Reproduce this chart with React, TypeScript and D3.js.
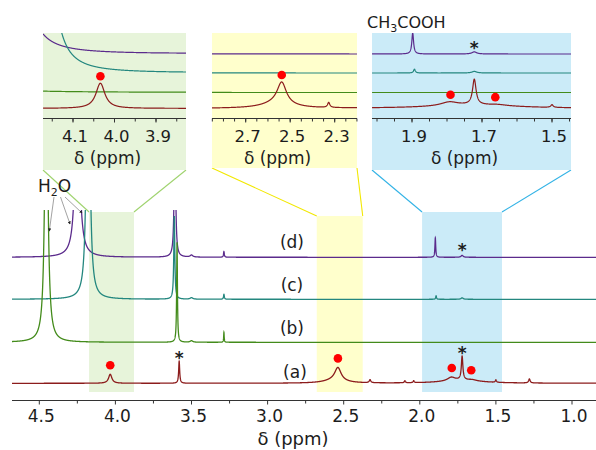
import React from "react";
import * as d3 from "d3";

type Peak = [number, number, number]; // [ppm, height, half-width (ppm)]

// ---------- data ----------
const traceLabels = ["(a)", "(b)", "(c)", "(d)"];

const peaksA: Peak[] = [
  [4.034, 9, 0.013],
  [3.581, 22, 0.004],
  [2.538, 13, 0.025],
  [2.56, 3, 0.08],
  [2.327, 3, 0.006],
  [2.098, 2, 0.004],
  [2.04, 2, 0.004],
  [1.72, 3, 0.15],
  [1.793, 3.6, 0.03],
  [1.722, 23.5, 0.006],
  [1.655, 1, 0.03],
  [1.5, 2.5, 0.004],
  [1.28, 4, 0.006],
];
const peaksB: Peak[] = [
  [4.454, 320, 0.011],
  [3.595, 100, 0.003],
  [3.5, 1.5, 0.01],
  [3.287, 10, 0.002],
];
const peaksC: Peak[] = [
  [4.179, 400, 0.01],
  [3.613, 83, 0.004],
  [3.5, 1.5, 0.01],
  [3.287, 5, 0.003],
  [1.893, 3.5, 0.003],
  [1.722, 1.5, 0.008],
];
const peaksD: Peak[] = [
  [4.25, 200, 0.015],
  [3.609, 150, 0.005],
  [3.5, 2, 0.01],
  [3.287, 5.7, 0.003],
  [1.898, 19.5, 0.003],
  [1.722, 2, 0.008],
];
const tracePeaks: Peak[][] = [peaksA, peaksB, peaksC, peaksD];

const mainTicks = [4.5, 4.0, 3.5, 3.0, 2.5, 2.0, 1.5, 1.0];
const greenTicks = [4.1, 4.0, 3.9];
const yellowTicks = [2.7, 2.5, 2.3];
const blueTicks = [1.9, 1.7, 1.5];

const dotPpmA = [4.034, 2.538, 1.79, 1.662];
const starPpmA = [3.581, 1.722];
const starPpmD = [1.722];

const greenBand: [number, number] = [4.173, 3.878];
const yellowBand: [number, number] = [2.677, 2.375];
const blueBand: [number, number] = [1.985, 1.46];

// ---------- styles / layout ----------
const traceColors = ["#8c1c1c", "#438b1b", "#24877f", "#5b2b8c"];
const FONT = "'DejaVu Sans', Verdana, sans-serif";
const TXT = "#1c1c1c";

const xMain = d3.scaleLinear().domain([4.5, 1.0]).range([39.3, 572]);
const mainLeft = 12;
const mainRight = 596;
const axisY = 400.5;
const clipTop = 210;
const mainBase = [383.3, 342.3, 299.3, 257.3];
const insetBase = [108.5, 92.5, 73, 54];
const insetAxisY = 118.5;

const intensity = (peaks: Peak[], x: number) =>
  d3.sum(peaks, ([p, h, w]) => (h * w * w) / (w * w + (x - p) * (x - p)));

function sampleGrid(lo: number, hi: number, step: number, peaks: Peak[]) {
  const xs = d3.range(lo, hi + step / 2, step);
  for (const [p, , w] of peaks) {
    xs.push(p, p - w * 0.5, p + w * 0.5, p - w, p + w, p - 0.25 * w, p + 0.25 * w);
  }
  return xs.filter((x) => x >= lo && x <= hi).sort((a, b) => a - b);
}

function tracePath(
  peaks: Peak[],
  x: d3.ScaleLinear<number, number>,
  base: number,
  gain: number,
  step: number
) {
  const [d0, d1] = x.domain();
  const lo = Math.min(d0, d1);
  const hi = Math.max(d0, d1);
  const grid = sampleGrid(lo, hi, step, peaks);
  const y = d3.scaleLinear().domain([0, 1]).range([base, base - gain]);
  return (
    d3
      .line<number>()
      .x((p) => x(p))
      .y((p) => y(intensity(peaks, p)))(grid) || ""
  );
}

const Star = ({ x, y }: { x: number; y: number }) => (
  <text x={x} y={y + 10} textAnchor="middle" fontFamily={FONT} fontWeight="bold" fontSize={17} fill={TXT}>
    *
  </text>
);

interface InsetCfg {
  id: string;
  x0: number;
  x1: number;
  y0: number;
  y1: number;
  dom: [number, number];
  rng: [number, number];
  gain: number;
  fill: string;
  stroke: string;
  band: [number, number];
  bandTop: number;
  ticks: number[];
}

const insets: InsetCfg[] = [
  { id: "g", x0: 43, x1: 186, y0: 33, y1: 170, dom: [4.1, 3.9], rng: [73, 156], gain: 2.8, fill: "#e7f4da", stroke: "#9fd36e", band: greenBand, bandTop: 212, ticks: greenTicks },
  { id: "y", x0: 212, x1: 357, y0: 33, y1: 168, dom: [2.7, 2.3], rng: [245.7, 334.7], gain: 1.67, fill: "#ffffcc", stroke: "#f2e800", band: yellowBand, bandTop: 216, ticks: yellowTicks },
  { id: "b", x0: 372, x1: 571, y0: 33, y1: 170, dom: [1.9, 1.5], rng: [412, 552], gain: 1.08, fill: "#cbebf8", stroke: "#33b3e6", band: blueBand, bandTop: 212, ticks: blueTicks },
];

function Inset({ cfg }: { cfg: InsetCfg }) {
  const xs = d3.scaleLinear().domain(cfg.dom).range(cfg.rng);
  const full = d3.scaleLinear().domain([xs.invert(cfg.x0), xs.invert(cfg.x1)]).range([cfg.x0, cfg.x1]);
  const lo = Math.min(...full.domain());
  const hi = Math.max(...full.domain());
  const minor = d3.range(Math.ceil(lo / 0.05 - 1e-6) * 0.05, hi, 0.05);
  const cx = (cfg.x0 + cfg.x1) / 2 - 7;
  const dots = dotPpmA.filter((p) => p > lo && p < hi);
  const stars = starPpmD.filter((p) => p > lo && p < hi);
  return (
    <g>
      <rect x={cfg.x0} y={cfg.y0} width={cfg.x1 - cfg.x0} height={cfg.y1 - cfg.y0} fill={cfg.fill} />
      <defs>
        <clipPath id={`clip-${cfg.id}`}>
          <rect x={cfg.x0} y={cfg.y0} width={cfg.x1 - cfg.x0} height={insetAxisY - cfg.y0} />
        </clipPath>
      </defs>
      <g clipPath={`url(#clip-${cfg.id})`}>
        {[3, 2, 1, 0].map((i) => (
          <path key={i} d={tracePath(tracePeaks[i], full, insetBase[i], cfg.gain, 0.0004)} fill="none" stroke={traceColors[i]} strokeWidth={1.2} />
        ))}
      </g>
      {dots.map((p) => (
        <circle key={p} cx={xs(p)} cy={insetBase[0] - cfg.gain * intensity(peaksA, p) - 7} r={4.3} fill="#ff0000" />
      ))}
      {stars.map((p) => (
        <Star key={p} x={xs(p)} y={insetBase[3] - cfg.gain * intensity(peaksD, p) - 8} />
      ))}
      <line x1={cfg.x0} x2={cfg.x1} y1={insetAxisY} y2={insetAxisY} stroke="#333" strokeWidth={1} />
      {minor.map((t) => (
        <line key={t} x1={full(t)} x2={full(t)} y1={insetAxisY} y2={insetAxisY + 3} stroke="#333" strokeWidth={1} />
      ))}
      {cfg.ticks.map((t) => (
        <g key={t}>
          <line x1={xs(t)} x2={xs(t)} y1={insetAxisY} y2={insetAxisY + 4} stroke="#333" strokeWidth={1} />
          <text x={xs(t) + 2} y={141.5} textAnchor="middle" fontFamily={FONT} fontSize={16.5} fill={TXT}>
            {t.toFixed(1)}
          </text>
        </g>
      ))}
      <text x={cx} y={164} textAnchor="middle" fontFamily={FONT} fontSize={17} fill={TXT}>
        δ (ppm)
      </text>
    </g>
  );
}

export default function App() {
  const full = d3.scaleLinear().domain([xMain.invert(mainLeft), xMain.invert(mainRight)]).range([mainLeft, mainRight]);
  const minorMain = d3.range(4.25, 0.8, -0.5);
  const bandRects = insets.map((c) => {
    const xa = xMain(c.band[0]);
    const xb = xMain(c.band[1]);
    return { c, xa, xb };
  });
  return (
    <svg width={596} height={450} style={{ position: "absolute", left: 0, top: 0, background: "#fff" }}>
      <defs>
        <clipPath id="clip-main">
          <rect x={mainLeft} y={clipTop} width={mainRight - mainLeft} height={axisY - clipTop} />
        </clipPath>
        <marker id="arr" viewBox="0 0 6 6" refX={5} refY={3} markerWidth={4} markerHeight={4} orient="auto">
          <path d="M0,0 L6,3 L0,6 z" fill="#222" />
        </marker>
      </defs>
      {/* highlighted bands */}
      {bandRects.map(({ c, xa, xb }) => (
        <g key={c.id}>
          <rect x={xa} y={c.bandTop} width={xb - xa} height={392 - c.bandTop} fill={c.fill} />
          <line x1={c.x0} y1={c.y1} x2={xa} y2={c.bandTop} stroke={c.stroke} strokeWidth={1.1} />
          <line x1={c.x1} y1={c.y1} x2={xb} y2={c.bandTop} stroke={c.stroke} strokeWidth={1.1} />
        </g>
      ))}
      {insets.map((c) => (
        <Inset key={c.id} cfg={c} />
      ))}
      {/* main spectra */}
      <g clipPath="url(#clip-main)">
        {[3, 2, 1, 0].map((i) => (
          <path key={i} d={tracePath(tracePeaks[i], full, mainBase[i], 1, 0.0005)} fill="none" stroke={traceColors[i]} strokeWidth={1.3} />
        ))}
      </g>
      {dotPpmA.map((p) => (
        <circle key={p} cx={xMain(p)} cy={mainBase[0] - intensity(peaksA, p) - 9} r={4.3} fill="#ff0000" />
      ))}
      {starPpmA.map((p) => (
        <Star key={p} x={xMain(p)} y={mainBase[0] - intensity(peaksA, p) - 7} />
      ))}
      {starPpmD.map((p) => (
        <Star key={p} x={xMain(p)} y={mainBase[3] - intensity(peaksD, p) - 9} />
      ))}
      {traceLabels.map((l, i) => (
        <text key={l} x={xMain(2.84) + (i === 0 ? 3 : 0)} y={mainBase[i] - [5.5, 8, 8.5, 9.5][i]} textAnchor="middle" fontFamily={FONT} fontSize={17} fill={TXT}>
          {l}
        </text>
      ))}
      {/* H2O annotation */}
      <text x={38} y={191.5} fontFamily={FONT} fontSize={17} fill={TXT}>
        H<tspan fontSize={11} dy={4}>2</tspan>
        <tspan dy={-4}>O</tspan>
      </text>
      {[
        [54, 197, 49.3, 231],
        [60.5, 197, 70, 224],
        [65, 197, 82, 213],
      ].map(([a, b, c, d], k) => (
        <line key={k} x1={a} y1={b} x2={c} y2={d} stroke="#8a8a8a" strokeWidth={0.8} markerEnd="url(#arr)" />
      ))}
      {/* CH3COOH annotation */}
      <text x={367} y={28.3} fontFamily={FONT} fontSize={16} fill={TXT}>
        CH<tspan fontSize={11} dy={4}>3</tspan>
        <tspan dy={-4}>COOH</tspan>
      </text>
      {/* main axis */}
      <line x1={mainLeft} x2={mainRight} y1={axisY} y2={axisY} stroke="#333" strokeWidth={1} />
      {minorMain.map((t) => (
        <line key={t} x1={xMain(t)} x2={xMain(t)} y1={axisY} y2={axisY + 3} stroke="#333" strokeWidth={1} />
      ))}
      {mainTicks.map((t) => (
        <g key={t}>
          <line x1={xMain(t)} x2={xMain(t)} y1={axisY} y2={axisY + 4} stroke="#333" strokeWidth={1} />
          <text x={xMain(t) + 2} y={422} textAnchor="middle" fontFamily={FONT} fontSize={17} fill={TXT}>
            {t.toFixed(1)}
          </text>
        </g>
      ))}
      <text x={293} y={445} textAnchor="middle" fontFamily={FONT} fontSize={18} fill={TXT}>
        δ (ppm)
      </text>
    </svg>
  );
}
